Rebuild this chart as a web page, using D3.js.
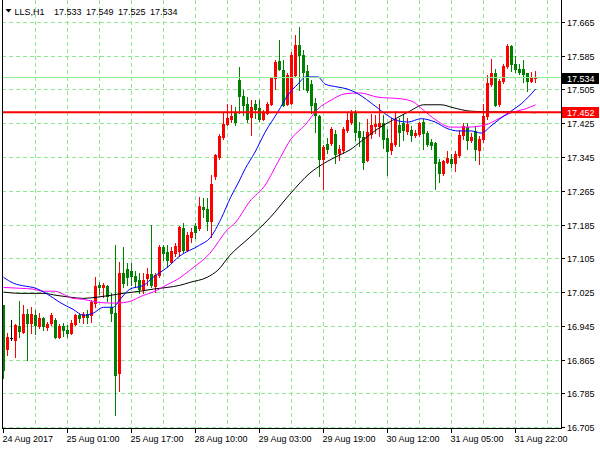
<!DOCTYPE html>
<html><head><meta charset="utf-8">
<script src="https://cdn.jsdelivr.net/npm/d3@7"></script>
<style>
body{margin:0;background:#fff}
svg{display:block}
text{font-family:"Liberation Sans",Arial,sans-serif;font-size:9px;fill:#000}
</style>
</head><body>
<svg id="c" width="600" height="450"></svg>
<script>
// ---- data ----
const symbol = "LLS,H1";
const titleValues = ["17.533", "17.549", "17.525", "17.534"];
const opens = [16.995,16.890,16.917,16.912,16.945,16.931,16.973,16.952,16.971,16.945,16.964,16.943,16.952,16.961,16.919,16.945,16.935,16.928,16.950,16.971,16.966,16.973,16.971,17.000,17.042,17.037,17.040,16.990,16.976,16.834,17.071,17.080,17.075,17.063,17.054,17.033,17.059,17.068,17.040,17.066,17.132,17.120,17.097,17.118,17.123,17.178,17.125,17.156,17.182,17.178,17.227,17.223,17.194,17.301,17.346,17.394,17.425,17.437,17.453,17.529,17.491,17.472,17.442,17.472,17.463,17.437,17.451,17.472,17.534,17.574,17.553,17.472,17.474,17.541,17.612,17.588,17.550,17.519,17.474,17.444,17.342,17.377,17.380,17.401,17.356,17.363,17.410,17.429,17.451,17.408,17.394,17.339,17.401,17.420,17.420,17.427,17.391,17.363,17.377,17.422,17.427,17.408,17.410,17.399,17.401,17.429,17.403,17.382,17.380,17.334,17.308,17.334,17.342,17.332,17.351,17.399,17.417,17.387,17.408,17.363,17.389,17.444,17.519,17.546,17.472,17.527,17.562,17.610,17.567,17.555,17.555,17.546,17.527,17.533];
const highs = [16.995,16.928,16.959,16.950,17.004,16.995,16.985,16.990,16.983,16.976,16.966,16.954,16.976,16.964,16.950,16.952,16.947,16.961,16.973,16.976,16.978,16.983,17.007,17.061,17.049,17.047,17.042,17.023,17.137,17.097,17.132,17.094,17.094,17.075,17.071,17.071,17.083,17.185,17.071,17.137,17.137,17.137,17.132,17.142,17.182,17.189,17.168,17.178,17.189,17.251,17.249,17.249,17.303,17.353,17.401,17.451,17.472,17.470,17.465,17.560,17.505,17.488,17.481,17.481,17.481,17.458,17.477,17.536,17.576,17.624,17.576,17.546,17.595,17.636,17.655,17.600,17.565,17.529,17.486,17.446,17.375,17.391,17.417,17.410,17.375,17.417,17.453,17.458,17.458,17.429,17.408,17.437,17.448,17.446,17.472,17.446,17.413,17.439,17.455,17.439,17.448,17.439,17.420,17.410,17.429,17.437,17.408,17.389,17.382,17.342,17.339,17.360,17.353,17.360,17.410,17.427,17.427,17.403,17.420,17.396,17.472,17.541,17.579,17.555,17.531,17.567,17.614,17.612,17.586,17.567,17.576,17.546,17.548,17.549];
const lows = [16.822,16.876,16.912,16.871,16.919,16.928,16.866,16.928,16.926,16.940,16.935,16.935,16.947,16.917,16.917,16.921,16.919,16.926,16.947,16.954,16.952,16.952,16.954,16.990,17.021,17.014,17.004,16.957,16.734,16.791,17.037,17.042,17.042,17.037,17.023,17.023,17.042,17.037,17.026,17.061,17.102,17.085,17.094,17.111,17.111,17.120,17.123,17.144,17.154,17.173,17.204,17.173,17.156,17.294,17.341,17.389,17.422,17.429,17.422,17.451,17.446,17.429,17.398,17.439,17.432,17.434,17.448,17.470,17.508,17.553,17.467,17.470,17.472,17.536,17.505,17.508,17.500,17.451,17.405,17.301,17.270,17.356,17.375,17.332,17.339,17.356,17.405,17.425,17.387,17.372,17.318,17.337,17.391,17.403,17.396,17.368,17.304,17.353,17.372,17.372,17.387,17.401,17.384,17.394,17.396,17.365,17.372,17.365,17.270,17.287,17.304,17.332,17.323,17.313,17.346,17.389,17.365,17.382,17.339,17.330,17.382,17.437,17.515,17.467,17.467,17.522,17.557,17.550,17.548,17.543,17.524,17.503,17.524,17.525];
const closes = [16.841,16.919,16.917,16.947,16.933,16.973,16.952,16.973,16.947,16.964,16.945,16.950,16.971,16.919,16.945,16.935,16.928,16.952,16.971,16.964,16.973,16.968,17.002,17.040,17.037,17.042,17.016,16.976,16.829,17.071,17.047,17.061,17.063,17.052,17.033,17.054,17.068,17.042,17.066,17.132,17.118,17.102,17.123,17.135,17.180,17.125,17.161,17.168,17.168,17.230,17.223,17.194,17.282,17.351,17.396,17.425,17.439,17.444,17.429,17.491,17.470,17.437,17.465,17.460,17.437,17.453,17.472,17.534,17.572,17.555,17.470,17.541,17.588,17.612,17.588,17.548,17.505,17.470,17.446,17.342,17.370,17.365,17.413,17.354,17.365,17.413,17.434,17.451,17.405,17.394,17.334,17.405,17.422,17.425,17.427,17.389,17.360,17.380,17.437,17.405,17.410,17.425,17.399,17.403,17.427,17.403,17.377,17.375,17.332,17.308,17.337,17.344,17.332,17.353,17.399,17.420,17.387,17.394,17.365,17.389,17.444,17.522,17.546,17.470,17.527,17.562,17.610,17.567,17.555,17.548,17.543,17.527,17.534,17.534];

// moving averages: [bar index, price]
const maFast = [[0,17.061],[2.5,17.047],[5.5,17.040],[7.4,17.037],[11,17.021],[14,17.002],[17.4,16.985],[20,16.971],[22.4,16.976],[25,16.990],[27.4,16.990],[29,17.007],[31.6,17.033],[35,17.042],[37.4,17.061],[41,17.085],[44,17.111],[49,17.137],[51.6,17.154],[54.4,17.200],[56.8,17.251],[58.8,17.287],[60.4,17.318],[62.9,17.358],[65.4,17.405],[68.6,17.453],[71.1,17.493],[73.6,17.519],[75.6,17.536],[78.6,17.536],[80.4,17.519],[83.6,17.512],[86.1,17.507],[88.6,17.496],[92.9,17.467],[96.1,17.444],[98.6,17.432],[101.1,17.429],[104.4,17.437],[107.9,17.429],[111.1,17.413],[113.6,17.408],[116.9,17.408],[119.4,17.403],[121.9,17.420],[124.4,17.439],[126.9,17.455],[129.4,17.472],[133,17.507]];
const maMid = [[0,17.037],[4.1,17.035],[7.4,17.033],[9.9,17.028],[12.9,17.028],[14.9,17.021],[17.4,17.011],[19.9,17.009],[23.4,17.002],[26.6,17.000],[28.4,17.000],[31.6,17.004],[34.9,17.018],[37.4,17.026],[41,17.044],[44,17.059],[46.6,17.078],[51.6,17.118],[55.9,17.173],[58.1,17.192],[61.4,17.239],[65.6,17.282],[68.6,17.334],[71.9,17.389],[75.4,17.422],[78.6,17.460],[81.9,17.481],[85.4,17.496],[89.1,17.498],[93.6,17.488],[99.4,17.484],[102.4,17.477],[104.9,17.458],[108.1,17.434],[111.8,17.417],[115.9,17.417],[120.4,17.422],[123.6,17.436],[126.9,17.451],[130.4,17.460],[133,17.470]];
const maSlow = [[0,17.026],[4.1,17.023],[9.9,17.023],[13.4,17.018],[16.6,17.014],[19.9,17.011],[23.4,17.014],[26.6,17.018],[29.9,17.023],[34.1,17.028],[37.4,17.033],[40.9,17.037],[44.1,17.042],[46.6,17.049],[50.9,17.061],[53.6,17.078],[56.6,17.113],[61.6,17.156],[66.6,17.202],[71.6,17.258],[76.6,17.308],[79.9,17.330],[84.1,17.351],[86.6,17.363],[89.5,17.384],[93.9,17.415],[98.4,17.439],[101.6,17.455],[105.1,17.470],[109.4,17.470],[112.4,17.463],[116.6,17.455],[121.9,17.453],[126.9,17.453],[133,17.451]];

const priceTicks = [17.665,17.585,17.505,17.425,17.345,17.265,17.185,17.105,17.025,16.945,16.865,16.785,16.705];
const timeLabels = ["24 Aug 2017","25 Aug 01:00","25 Aug 17:00","28 Aug 10:00","29 Aug 03:00","29 Aug 19:00","30 Aug 12:00","31 Aug 05:00","31 Aug 22:00"];
const timeLabelBars = [0,16,32,48,64,80,96,112,128];
const levelLine = 17.452;
const bidPrice = 17.534;

// ---- drawing ----
const svg = d3.select("#c");
const L = 2, R = 561, B = 428;
const x = d3.scaleLinear().domain([0,133]).range([3.5,535.5]);
const y = d3.scaleLinear().domain([16.705,17.665]).range([427.5,22.5]);
const gridColor = "#8fe88f";

// grid
const g = svg.append("g");
priceTicks.forEach(t=>{
  const yy = Math.floor(y(t))+0.5;
  g.append("line").attr("x1",L).attr("x2",R).attr("y1",yy).attr("y2",yy)
   .attr("stroke",gridColor).attr("stroke-dasharray","4,3");
});
d3.range(8,140,8).forEach(b=>{
  const xx = x(b);
  if (xx >= R) return;
  g.append("line").attr("x1",xx).attr("x2",xx).attr("y1",0).attr("y2",B)
   .attr("stroke",gridColor).attr("stroke-dasharray","4,3");
});

// candles
const cg = svg.append("g");
opens.forEach((o,i)=>{
  const c = closes[i], h = highs[i], l = lows[i];
  const col = c > o ? "#ff0000" : (c < o ? "#008000" : "#000000");
  const cx = x(i);
  cg.append("line").attr("x1",cx).attr("x2",cx)
    .attr("y1",Math.round(y(h))).attr("y2",Math.round(y(l))+1)
    .attr("stroke",col).attr("stroke-width",1);
  const top = Math.round(y(Math.max(o,c)));
  const bot = Math.round(y(Math.min(o,c)));
  cg.append("rect").attr("x",cx-1.5).attr("width",3)
    .attr("y",top).attr("height",Math.max(1,bot-top+1))
    .attr("fill",col);
});

// moving averages
const line = d3.line().x(d=>x(d[0])).y(d=>y(d[1])).curve(d3.curveMonotoneX);
[[maSlow,"#000000"],[maMid,"#ff00ff"],[maFast,"#0000ff"]].forEach(([data,col])=>{
  svg.append("path").attr("d",line(data)).attr("fill","none")
     .attr("stroke",col).attr("stroke-width",1);
});

// horizontal level line and bid line
svg.append("line").attr("x1",L).attr("x2",R).attr("y1",y(levelLine)).attr("y2",y(levelLine))
   .attr("stroke","#ff0000").attr("stroke-width",2);
const by = Math.floor(y(bidPrice))+0.5;
svg.append("line").attr("x1",L).attr("x2",R).attr("y1",by).attr("y2",by)
   .attr("stroke","#90ee90").attr("stroke-width",1);

// frame
svg.append("line").attr("x1",L+0.5).attr("x2",L+0.5).attr("y1",0).attr("y2",B+1).attr("stroke","#000");
svg.append("line").attr("x1",R+0.5).attr("x2",R+0.5).attr("y1",0).attr("y2",B+1).attr("stroke","#000");
svg.append("line").attr("x1",L).attr("x2",R+1).attr("y1",B+0.5).attr("y2",B+0.5).attr("stroke","#000");

// price axis
priceTicks.forEach(t=>{
  const yy = Math.floor(y(t))+0.5;
  svg.append("line").attr("x1",R).attr("x2",R+4).attr("y1",yy).attr("y2",yy).attr("stroke","#000");
  svg.append("text").attr("x",R+6).attr("y",yy+3.5).text(d3.format(".3f")(t));
});

// time axis
timeLabelBars.forEach((b,i)=>{
  const xx = x(b);
  svg.append("line").attr("x1",xx).attr("x2",xx).attr("y1",B).attr("y2",B+5).attr("stroke","#000");
  svg.append("text").attr("x",xx-1).attr("y",442).text(timeLabels[i]);
});

// price boxes
function priceBox(v, bg){
  const yy = y(v);
  svg.append("rect").attr("x",R+1).attr("y",Math.round(yy)-5).attr("width",37).attr("height",11).attr("fill",bg);
  svg.append("text").attr("x",R+6).attr("y",Math.round(yy)+3.5).style("fill","#fff").text(d3.format(".3f")(v));
}
priceBox(levelLine,"#ff0000");
priceBox(bidPrice,"#000000");

// title
svg.append("path").attr("d","M5.5,9 L11.5,9 L8.5,12.5 Z").attr("fill","#000");
svg.append("text").attr("x",14.5).attr("y",15).text(symbol);
svg.append("text").attr("x",54).attr("y",15).style("word-spacing","2px").text(titleValues.join(" "));
</script>
</body></html>
